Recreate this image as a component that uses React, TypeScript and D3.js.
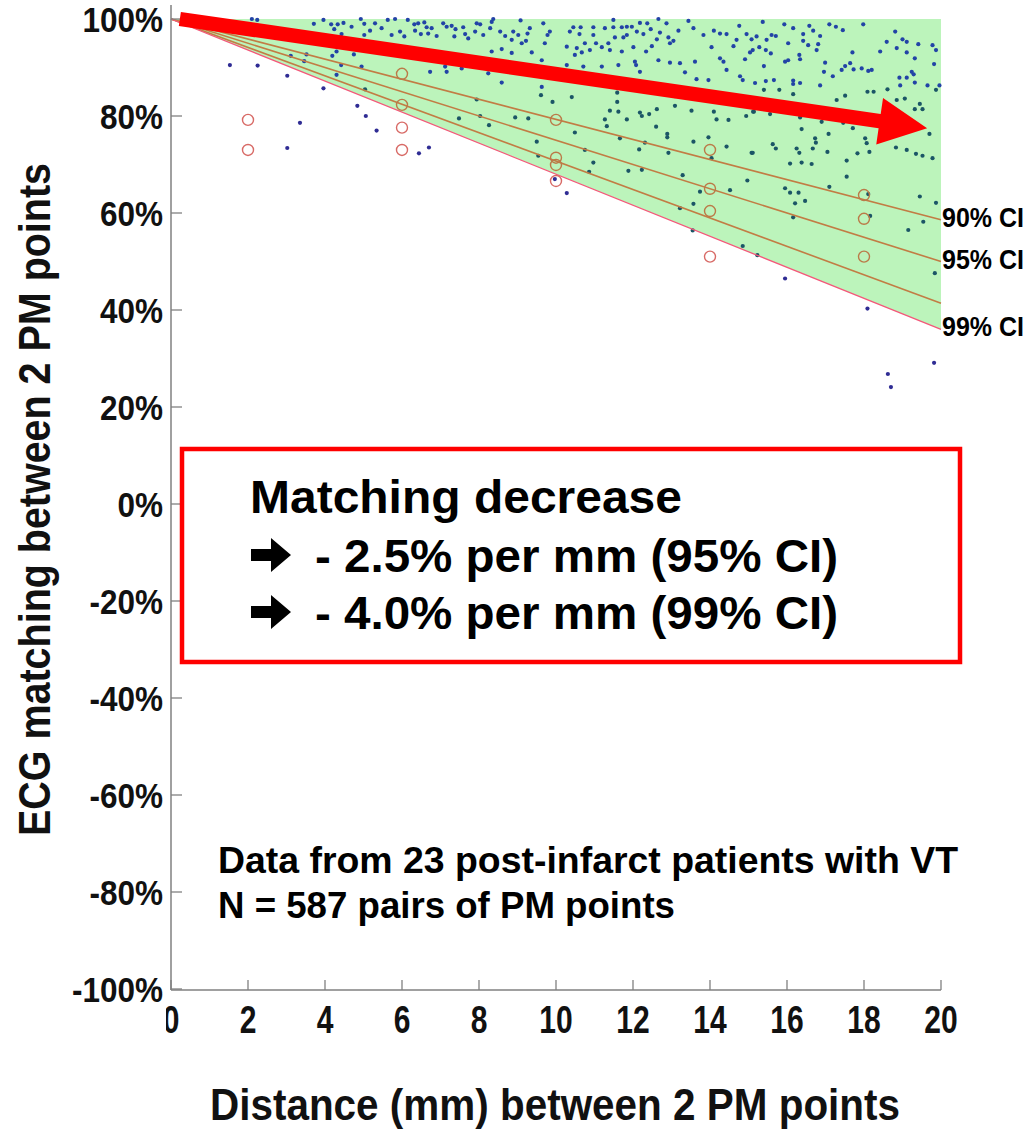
import React from "react";
import * as d3 from "d3";

// ---- data -------------------------------------------------------------

// pairs of pacemap points: [distance between the 2 points (mm), ECG matching (%)]
const pairDots: [number, number][] = [
  [2.10,100],[2.24,99.8],[1.53,90.5],[2.25,90.4],[3.02,88.3],[3.96,85.7],[3.35,78.6],[3.02,73.4],[4.84,82.1],[5.06,80.0],
  [3.71,99.0],[3.96,99.8],[4.16,98.9],[4.33,98.9],[4.48,99.2],[4.24,97.9],[4.69,98.4],[4.93,100],[5.02,99.0],[5.02,96.7],
  [4.43,96.9],[3.52,92.7],[3.11,92.4],[3.46,91.3],[4.19,92.4],[4.30,93.3],[4.75,92.7],[4.42,90.5],[4.30,88.5],[4.95,90.2],[5.04,85.5],
  [5.30,99.1],[5.63,99.8],[5.82,100],[6.15,99.8],[5.17,97.6],[5.47,98.1],[5.73,96.7],[5.95,97.4],[6.06,96.4],[6.32,98.9],
  [6.42,99.1],[6.58,99.3],[6.64,98.3],[6.34,97.6],[6.49,96.9],[6.68,97.0],[6.77,98.1],[6.90,96.5],[7.07,99.1],[7.16,98.4],
  [7.29,98.6],[7.39,97.9],[7.36,96.4],[7.59,98.3],[7.64,96.9],[7.72,96.0],[7.94,99.1],[8.03,98.9],[8.33,99.4],[8.37,100],
  [8.29,98.1],[8.11,96.7],[7.90,97.4],[8.55,97.4],[8.68,96.5],[8.85,95.7],[8.89,97.4],[9.02,96.7],[9.11,95.0],[9.22,95.5],
  [9.26,97.0],[9.32,98.1],[9.08,99.7],[9.67,99.1],[9.78,96.7],[9.84,97.4],[9.71,95.0],[9.37,93.1],[8.59,93.8],[8.85,93.0],
  [8.33,93.3],[9.63,91.5],[6.73,89.1],[7.12,90.2],[7.16,89.1],[7.55,89.8],[8.24,88.8],[8.59,86.9],[9.63,86.0],[9.61,84.3],
  [9.91,82.9],[7.94,83.4],[7.48,79.5],[8.03,80.0],[8.26,78.1],[8.94,79.7],[9.28,79.5],[9.50,74.7],[9.54,71.8],[5.34,77.0],
  [6.44,72.3],[6.70,73.5],
  [11.49,99.8],[12.66,100],[13.44,99.6],[10.45,98.3],[10.64,98.3],[10.36,97.4],[10.61,96.9],[10.97,98.3],[10.97,96.7],[11.27,98.1],
  [11.49,98.3],[11.71,98.3],[11.84,98.4],[11.97,98.4],[12.18,99.2],[12.37,99.1],[12.46,97.9],[12.10,97.4],[12.27,96.9],[11.84,96.7],
  [11.53,96.2],[11.75,96.2],[12.70,97.2],[12.87,99.1],[13.18,97.6],[13.57,98.1],[13.83,96.7],[14.10,97.6],[14.26,97.0],[14.43,96.9],
  [14.76,98.6],[14.95,96.9],[12.92,96.2],[12.96,95.0],[13.05,95.5],[12.62,95.8],[12.49,94.4],[10.28,94.3],[10.54,94.0],[10.75,95.0],
  [11.04,95.0],[11.19,94.2],[10.67,93.1],[10.49,92.6],[10.88,93.6],[11.36,95.0],[11.40,93.6],[11.71,93.3],[12.01,94.2],[12.34,93.3],
  [12.66,91.5],[12.05,91.2],[12.08,90.5],[12.96,91.0],[13.35,89.0],[13.65,87.6],[13.96,87.4],[14.04,94.2],[14.26,91.9],[14.43,89.5],
  [14.78,88.2],[14.85,87.4],[14.91,91.7],[15.04,93.1],[15.08,95.8],[14.69,95.7],[14.61,94.4],[14.35,91.2],[13.61,91.2],[13.22,90.9],
  [10.28,90.5],[10.71,90.2],[11.19,90.2],[11.62,90.5],[12.18,89.1],[10.41,83.9],[11.59,84.8],[11.59,82.9],[11.40,81.1],[11.62,80.9],
  [12.18,80.7],[12.23,80.0],[12.62,81.4],[12.42,80.4],[13.09,82.1],[13.09,84.1],[13.52,81.1],[14.10,80.9],[14.17,79.3],[14.48,79.2],
  [14.94,80.0],[15.14,80.9],[11.27,79.3],[11.32,77.9],[11.84,79.3],[12.60,77.8],[10.49,76.6],[11.66,75.4],[12.31,74.5],[12.89,76.3],
  [12.89,75.6],[13.96,75.6],[13.57,74.7],[14.43,73.7],[15.08,72.4],[12.16,73.1],[12.92,72.4],[10.75,73.0],[10.97,70.4],[11.88,68.7],
  [12.23,68.9],[13.29,67.8],[14.04,71.3],[13.74,64.4],[14.52,64.7],[14.97,66.7],[10.86,68.5],[10.28,64.1],[9.97,67.0],
  [15.37,99.4],[15.93,98.9],[16.16,98.1],[16.42,96.9],[16.58,98.6],[16.68,97.6],[16.86,96.5],[17.10,98.9],[17.27,98.4],[17.45,97.7],
  [17.98,98.9],[18.81,97.4],[19.00,95.8],[19.11,95.3],[19.41,94.8],[19.78,94.6],[19.87,93.6],[15.21,96.4],[15.47,95.7],[15.60,96.7],
  [15.71,96.5],[15.11,93.6],[15.28,94.2],[15.45,93.6],[15.58,92.9],[16.03,95.0],[16.42,95.5],[16.55,94.6],[16.81,94.8],[16.77,93.6],
  [16.32,92.6],[16.34,91.7],[15.95,91.2],[15.40,90.3],[16.03,91.5],[16.99,91.0],[16.96,89.1],[17.19,88.2],[17.51,90.3],[17.64,90.9],
  [17.73,89.6],[17.42,89.5],[17.94,89.8],[18.11,89.3],[18.20,89.5],[17.70,93.1],[18.42,93.3],[18.59,95.3],[18.85,94.0],[19.11,93.1],
  [19.32,91.9],[19.82,90.7],[19.24,89.1],[19.29,88.6],[18.92,87.9],[19.11,87.9],[19.32,86.9],[19.65,86.3],[19.96,86.3],[19.87,85.4],
  [18.94,86.3],[18.61,85.5],[18.09,85.0],[18.25,85.0],[19.06,83.6],[18.85,83.3],[19.32,81.4],[19.52,81.4],[19.45,82.5],[19.70,76.3],
  [16.16,87.3],[16.16,86.6],[16.34,86.8],[15.66,87.4],[15.45,87.2],[15.17,86.8],[15.40,85.4],[15.80,85.4],[16.16,84.5],[16.86,86.3],
  [17.29,83.3],[17.51,84.2],[15.12,80.9],[15.56,80.4],[16.34,79.7],[16.90,78.8],[17.46,78.6],[17.71,77.5],[16.38,77.3],[17.08,76.3],
  [18.03,75.4],[16.73,75.4],[16.75,74.5],[18.07,74.4],[15.63,74.2],[15.71,73.3],[16.25,73.3],[16.32,72.4],[17.05,72.6],[16.67,73.3],
  [17.83,72.3],[18.14,72.6],[18.83,73.5],[19.11,73.0],[19.35,72.2],[19.52,71.8],[19.78,71.3],[16.38,70.4],[16.08,70.2],[16.64,70.1],
  [17.55,70.8],[15.11,72.4],[17.55,67.5],[17.10,65.4],[15.95,65.1],[16.08,64.2],[16.30,64.2],[19.45,63.4],
  [16.21,62.0],[16.47,62.5],[18.11,63.9],[18.16,59.4],[19.87,62.1],[19.54,58.2],[19.15,56.5],[19.84,47.6],[13.57,61.9],[13.22,61.0],
  [13.55,56.4],[14.85,53.2],[15.23,51.3],[16.16,59.1],[15.95,46.5],[18.09,40.3],[19.82,29.1],[18.62,26.8],[18.70,24.1],
];

// bin summary markers (open circles) at 2, 6, 10, 14 and 18 mm
const bandCircles: [number, number][] = [
  [6, 88.7], [6, 82.3], [10, 79.2], [10, 71.4], [10, 69.9],
  [14, 73.0], [14, 65.0], [14, 60.4], [18, 63.7], [18, 58.8], [18, 51.0],
];
const outlierCircles: [number, number][] = [
  [2, 79.2], [2, 73.0], [6, 77.6], [6, 73.0], [10, 66.6], [14, 51.0],
];

// confidence lines: matching loss per mm from 100% at 0 mm
const ciSlopes = [-2.07, -2.5, -2.93, -3.2];
const ciLabels = ["90% CI", "95% CI", "", "99% CI"];

// axis ticks
const yTickValues = [100, 80, 60, 40, 20, 0, -20, -40, -60, -80, -100];
const xTickValues = [0, 2, 4, 6, 8, 10, 12, 14, 16, 18, 20];

// overall trend arrow, in data units
const trendFrom: [number, number] = [0.23, 100];
const trendTo: [number, number] = [19.64, 77.5];

const summaryTitle = "Matching decrease";
const summaryLines = ["- 2.5% per mm (95% CI)", "- 4.0% per mm (99% CI)"];
const footnotes = ["Data from 23 post-infarct patients with VT", "N = 587 pairs of PM points"];

// ---- chart -------------------------------------------------------------

const W = 1032;
const H = 1131;
const FONT = "'Liberation Sans', Arial, Helvetica, sans-serif";

export default function App() {
  const x = d3.scaleLinear().domain([0, 20]).range([171, 941]);
  const y = d3.scaleLinear().domain([-100, 100]).range([989, 19]);

  const ciValue = (i: number, d: number) => 100 + ciSlopes[i] * d;
  const lowest = ciSlopes.length - 1;

  const band = d3
    .area<number>()
    .x((d) => x(d))
    .y0((d) => y(ciValue(lowest, d)))
    .y1(() => y(100))([0, 20]);

  const dotColor = (d: [number, number]) => {
    if (d[1] < ciValue(lowest, d[0]) - 0.5) return "#2f2c94";
    if (d[1] < 86) return "#1b5566";
    return "#2243a6";
  };

  // trend arrow polygon
  const sx = x(trendFrom[0]), sy = y(trendFrom[1]);
  const tx = x(trendTo[0]), ty = y(trendTo[1]);
  const len = Math.hypot(tx - sx, ty - sy);
  const ux = (tx - sx) / len, uy = (ty - sy) / len;
  const nx = -uy, ny = ux;
  const hw = 7.2, hh = 23.5, hl = 48;
  const bx = tx - ux * hl, by = ty - uy * hl;
  const arrowPts = [
    [sx + nx * hw, sy + ny * hw],
    [bx + nx * hw, by + ny * hw],
    [bx + nx * hh, by + ny * hh],
    [tx, ty],
    [bx - nx * hh, by - ny * hh],
    [bx - nx * hw, by - ny * hw],
    [sx - nx * hw, sy - ny * hw],
  ]
    .map((p) => p.join(","))
    .join(" ");

  // bullet arrow used in the summary box
  const bullet = (cy: number) =>
    `M251,${cy - 6} L271,${cy - 6} L271,${cy - 17} L291,${cy} L271,${cy + 17} L271,${cy + 6} L251,${cy + 6} Z`;

  return (
    <svg
      width={W}
      height={H}
      viewBox={`0 0 ${W} ${H}`}
      style={{ position: "absolute", left: 0, top: 0, display: "block", background: "#fff" }}
      fontFamily={FONT}
      fontWeight="bold"
    >
      <defs>
        <clipPath id="xLabelClip">
          <rect x={166} y={990} width={W} height={60} />
        </clipPath>
      </defs>

      {/* confidence band */}
      <path d={band ?? ""} fill="#bcf4bb" />

      {/* pairs */}
      {pairDots.map((d, i) => (
        <circle key={i} cx={x(d[0])} cy={y(d[1])} r={2.1} fill={dotColor(d)} />
      ))}

      {/* CI lines */}
      {ciSlopes.map((s, i) => (
        <line
          key={i}
          x1={x(0)}
          y1={y(100)}
          x2={x(20)}
          y2={y(ciValue(i, 20))}
          stroke={i === lowest ? "#f4587a" : "#c27c44"}
          strokeWidth={i === lowest ? 1.3 : 1.6}
        />
      ))}

      {/* bin markers */}
      {bandCircles.map((d, i) => (
        <circle key={"b" + i} cx={x(d[0])} cy={y(d[1])} r={5.5} fill="none" stroke="#bb7a48" strokeWidth={1.4} />
      ))}
      {outlierCircles.map((d, i) => (
        <circle key={"o" + i} cx={x(d[0])} cy={y(d[1])} r={5.5} fill="none" stroke="#d86a66" strokeWidth={1.4} />
      ))}

      {/* CI labels */}
      {ciLabels.map((t, i) =>
        t ? (
          <text
            key={t}
            x={942}
            y={y(ciValue(i, 20)) - 2}
            dominantBaseline="central"
            fontSize={27}
            textLength={82}
            lengthAdjust="spacingAndGlyphs"
            fill="#000"
          >
            {t}
          </text>
        ) : null
      )}

      {/* axes */}
      <line x1={171} y1={5} x2={171} y2={990} stroke="#808080" strokeWidth={1.5} />
      <line x1={171} y1={990} x2={941} y2={990} stroke="#808080" strokeWidth={1.5} />
      {yTickValues.map((v) => (
        <g key={"yt" + v}>
          <line x1={171} x2={182} y1={y(v)} y2={y(v)} stroke="#808080" strokeWidth={1.3} />
          <g transform={`translate(163,${y(v)}) scale(0.9,1)`}>
            <text textAnchor="end" dy="0.36em" fontSize={35} fill="#111">
              {v + "%"}
            </text>
          </g>
        </g>
      ))}
      {xTickValues.map((v) => (
        <g key={"xt" + v}>
          <line x1={x(v)} x2={x(v)} y1={990} y2={980} stroke="#808080" strokeWidth={1.3} />
          <g clipPath="url(#xLabelClip)">
            <g transform={`translate(${x(v)},1033) scale(0.77,1)`}>
              <text textAnchor="middle" fontSize={39} fill="#111">
                {v}
              </text>
            </g>
          </g>
        </g>
      ))}

      {/* axis titles */}
      <text
        x={555}
        y={1120}
        textAnchor="middle"
        fontSize={45}
        textLength={690}
        lengthAdjust="spacingAndGlyphs"
        fill="#111"
      >
        Distance (mm) between 2 PM points
      </text>
      <g transform="translate(50,499.5) rotate(-90)">
        <text textAnchor="middle" fontSize={45} textLength={673} lengthAdjust="spacingAndGlyphs" fill="#111">
          ECG matching between 2 PM points
        </text>
      </g>

      {/* trend arrow */}
      <polygon points={arrowPts} fill="#ff0000" />

      {/* summary box */}
      <rect x={182} y={449} width={778} height={213} fill="#fff" stroke="#ff0000" strokeWidth={4.5} />
      <text x={250} y={513} fontSize={47} textLength={432} lengthAdjust="spacingAndGlyphs" fill="#000">
        {summaryTitle}
      </text>
      {summaryLines.map((t, i) => (
        <g key={t}>
          <path d={bullet(555 + i * 57)} fill="#000" />
          <text x={315} y={572 + i * 57} fontSize={47} textLength={523} lengthAdjust="spacingAndGlyphs" fill="#000">
            {t}
          </text>
        </g>
      ))}

      {/* footnotes */}
      <text x={218} y={873} fontSize={36} textLength={740} lengthAdjust="spacingAndGlyphs" fill="#000">
        {footnotes[0]}
      </text>
      <text x={218} y={918} fontSize={36} textLength={457} lengthAdjust="spacingAndGlyphs" fill="#000">
        {footnotes[1]}
      </text>
    </svg>
  );
}
